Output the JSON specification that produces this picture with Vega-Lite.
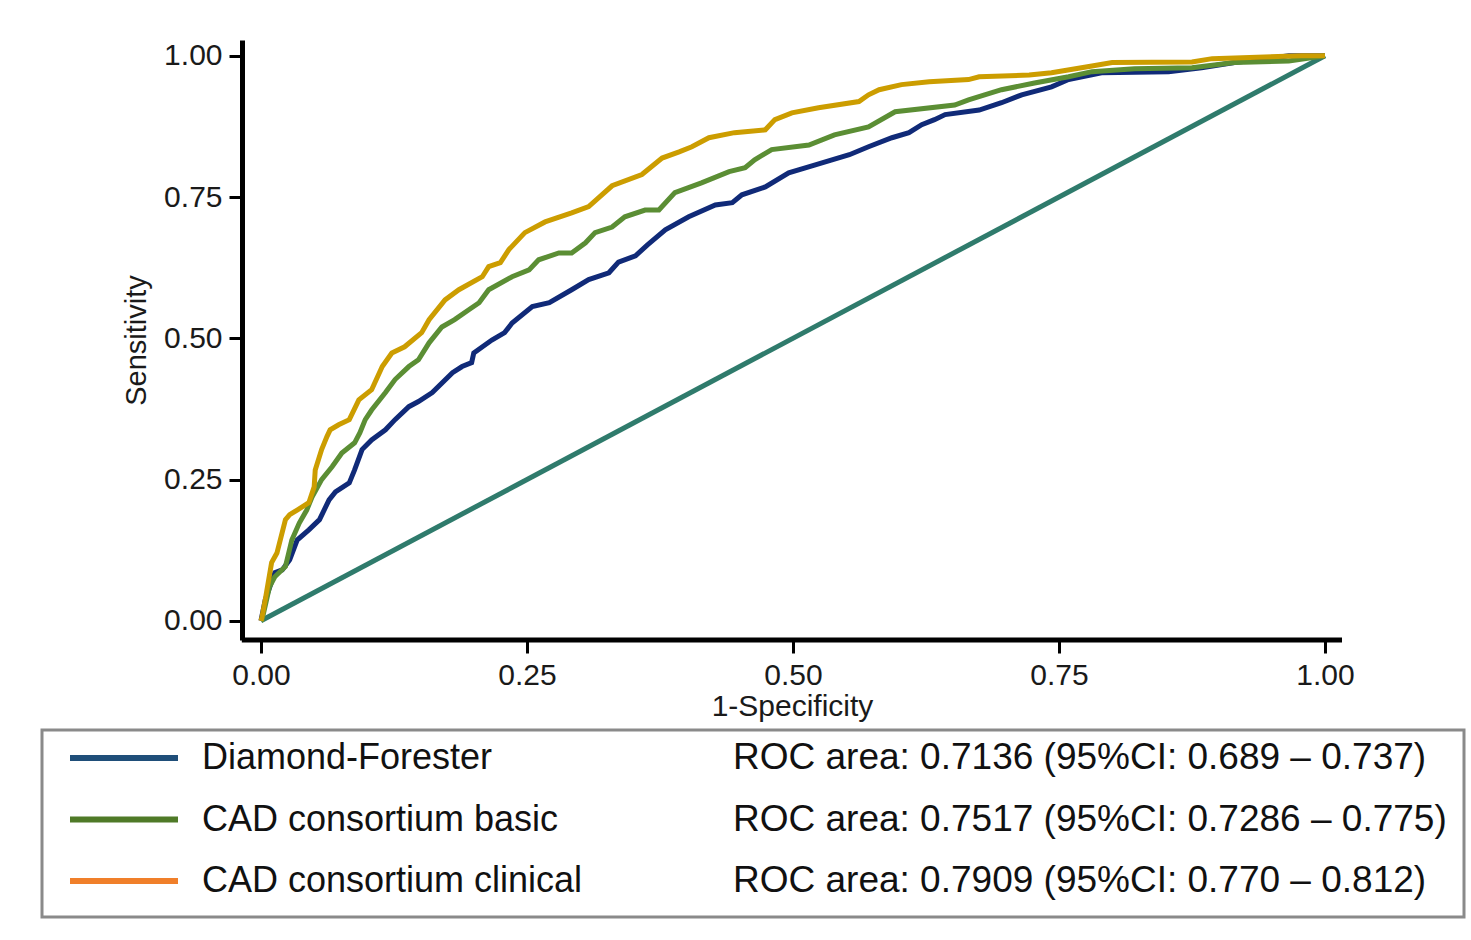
{
  "$schema": "https://vega.github.io/schema/vega-lite/v6.json",
  "padding": {"left": 40, "top": 40, "right": 0, "bottom": 0},
  "background": "white",
  "bounds": "flush",
  "spacing": 90,
  "resolve": {"scale": {"color": "independent", "x": "independent", "y": "independent"}},
  "config": {"font": "Liberation Sans", "view": {"stroke": null}},
  "datasets": {
    "ref": [{"fpr": 0, "tpr": 0}, {"fpr": 1, "tpr": 1}],
    "legend": [
      {"name": "Diamond-Forester", "roc": "ROC area: 0.7136 (95%CI: 0.689 – 0.737)"},
      {"name": "CAD consortium basic", "roc": "ROC area: 0.7517 (95%CI: 0.7286 – 0.775)"},
      {"name": "CAD consortium clinical", "roc": "ROC area: 0.7909 (95%CI: 0.770 – 0.812)"}
    ],
    "roc": [
      {"model": "Diamond-Forester", "fpr": 0, "tpr": 0},
      {"model": "Diamond-Forester", "fpr": 0.004, "tpr": 0.037},
      {"model": "Diamond-Forester", "fpr": 0.013, "tpr": 0.085},
      {"model": "Diamond-Forester", "fpr": 0.020, "tpr": 0.090},
      {"model": "Diamond-Forester", "fpr": 0.027, "tpr": 0.108},
      {"model": "Diamond-Forester", "fpr": 0.034, "tpr": 0.143},
      {"model": "Diamond-Forester", "fpr": 0.045, "tpr": 0.161},
      {"model": "Diamond-Forester", "fpr": 0.055, "tpr": 0.179},
      {"model": "Diamond-Forester", "fpr": 0.064, "tpr": 0.214},
      {"model": "Diamond-Forester", "fpr": 0.070, "tpr": 0.228},
      {"model": "Diamond-Forester", "fpr": 0.083, "tpr": 0.244},
      {"model": "Diamond-Forester", "fpr": 0.088, "tpr": 0.267},
      {"model": "Diamond-Forester", "fpr": 0.095, "tpr": 0.303},
      {"model": "Diamond-Forester", "fpr": 0.104, "tpr": 0.320},
      {"model": "Diamond-Forester", "fpr": 0.117, "tpr": 0.338},
      {"model": "Diamond-Forester", "fpr": 0.126, "tpr": 0.356},
      {"model": "Diamond-Forester", "fpr": 0.139, "tpr": 0.379},
      {"model": "Diamond-Forester", "fpr": 0.148, "tpr": 0.388},
      {"model": "Diamond-Forester", "fpr": 0.161, "tpr": 0.404},
      {"model": "Diamond-Forester", "fpr": 0.180, "tpr": 0.439},
      {"model": "Diamond-Forester", "fpr": 0.189, "tpr": 0.450},
      {"model": "Diamond-Forester", "fpr": 0.198, "tpr": 0.457},
      {"model": "Diamond-Forester", "fpr": 0.200, "tpr": 0.474},
      {"model": "Diamond-Forester", "fpr": 0.217, "tpr": 0.497},
      {"model": "Diamond-Forester", "fpr": 0.229, "tpr": 0.510},
      {"model": "Diamond-Forester", "fpr": 0.236, "tpr": 0.527},
      {"model": "Diamond-Forester", "fpr": 0.255, "tpr": 0.556},
      {"model": "Diamond-Forester", "fpr": 0.271, "tpr": 0.563},
      {"model": "Diamond-Forester", "fpr": 0.292, "tpr": 0.586},
      {"model": "Diamond-Forester", "fpr": 0.308, "tpr": 0.604},
      {"model": "Diamond-Forester", "fpr": 0.327, "tpr": 0.616},
      {"model": "Diamond-Forester", "fpr": 0.336, "tpr": 0.635},
      {"model": "Diamond-Forester", "fpr": 0.352, "tpr": 0.646},
      {"model": "Diamond-Forester", "fpr": 0.363, "tpr": 0.665},
      {"model": "Diamond-Forester", "fpr": 0.380, "tpr": 0.692},
      {"model": "Diamond-Forester", "fpr": 0.402, "tpr": 0.715},
      {"model": "Diamond-Forester", "fpr": 0.427, "tpr": 0.736},
      {"model": "Diamond-Forester", "fpr": 0.443, "tpr": 0.740},
      {"model": "Diamond-Forester", "fpr": 0.452, "tpr": 0.754},
      {"model": "Diamond-Forester", "fpr": 0.474, "tpr": 0.768},
      {"model": "Diamond-Forester", "fpr": 0.496, "tpr": 0.793},
      {"model": "Diamond-Forester", "fpr": 0.521, "tpr": 0.807},
      {"model": "Diamond-Forester", "fpr": 0.553, "tpr": 0.825},
      {"model": "Diamond-Forester", "fpr": 0.571, "tpr": 0.839},
      {"model": "Diamond-Forester", "fpr": 0.593, "tpr": 0.855},
      {"model": "Diamond-Forester", "fpr": 0.609, "tpr": 0.864},
      {"model": "Diamond-Forester", "fpr": 0.621, "tpr": 0.878},
      {"model": "Diamond-Forester", "fpr": 0.633, "tpr": 0.887},
      {"model": "Diamond-Forester", "fpr": 0.643, "tpr": 0.896},
      {"model": "Diamond-Forester", "fpr": 0.675, "tpr": 0.904},
      {"model": "Diamond-Forester", "fpr": 0.696, "tpr": 0.917},
      {"model": "Diamond-Forester", "fpr": 0.715, "tpr": 0.931},
      {"model": "Diamond-Forester", "fpr": 0.743, "tpr": 0.945},
      {"model": "Diamond-Forester", "fpr": 0.759, "tpr": 0.958},
      {"model": "Diamond-Forester", "fpr": 0.790, "tpr": 0.970},
      {"model": "Diamond-Forester", "fpr": 0.853, "tpr": 0.972},
      {"model": "Diamond-Forester", "fpr": 0.884, "tpr": 0.979},
      {"model": "Diamond-Forester", "fpr": 0.915, "tpr": 0.988},
      {"model": "Diamond-Forester", "fpr": 0.966, "tpr": 1.0},
      {"model": "Diamond-Forester", "fpr": 1, "tpr": 1},
      {"model": "CAD consortium basic", "fpr": 0, "tpr": 0},
      {"model": "CAD consortium basic", "fpr": 0.001, "tpr": 0.002},
      {"model": "CAD consortium basic", "fpr": 0.008, "tpr": 0.060},
      {"model": "CAD consortium basic", "fpr": 0.013, "tpr": 0.078},
      {"model": "CAD consortium basic", "fpr": 0.023, "tpr": 0.096},
      {"model": "CAD consortium basic", "fpr": 0.029, "tpr": 0.143},
      {"model": "CAD consortium basic", "fpr": 0.036, "tpr": 0.173},
      {"model": "CAD consortium basic", "fpr": 0.043, "tpr": 0.196},
      {"model": "CAD consortium basic", "fpr": 0.048, "tpr": 0.219},
      {"model": "CAD consortium basic", "fpr": 0.057, "tpr": 0.250},
      {"model": "CAD consortium basic", "fpr": 0.067, "tpr": 0.273},
      {"model": "CAD consortium basic", "fpr": 0.076, "tpr": 0.297},
      {"model": "CAD consortium basic", "fpr": 0.088, "tpr": 0.315},
      {"model": "CAD consortium basic", "fpr": 0.093, "tpr": 0.333},
      {"model": "CAD consortium basic", "fpr": 0.098, "tpr": 0.356},
      {"model": "CAD consortium basic", "fpr": 0.104, "tpr": 0.373},
      {"model": "CAD consortium basic", "fpr": 0.117, "tpr": 0.404},
      {"model": "CAD consortium basic", "fpr": 0.126, "tpr": 0.427},
      {"model": "CAD consortium basic", "fpr": 0.139, "tpr": 0.450},
      {"model": "CAD consortium basic", "fpr": 0.148, "tpr": 0.462},
      {"model": "CAD consortium basic", "fpr": 0.158, "tpr": 0.492},
      {"model": "CAD consortium basic", "fpr": 0.170, "tpr": 0.520},
      {"model": "CAD consortium basic", "fpr": 0.182, "tpr": 0.533},
      {"model": "CAD consortium basic", "fpr": 0.195, "tpr": 0.550},
      {"model": "CAD consortium basic", "fpr": 0.205, "tpr": 0.563},
      {"model": "CAD consortium basic", "fpr": 0.214, "tpr": 0.586},
      {"model": "CAD consortium basic", "fpr": 0.236, "tpr": 0.609},
      {"model": "CAD consortium basic", "fpr": 0.252, "tpr": 0.621},
      {"model": "CAD consortium basic", "fpr": 0.261, "tpr": 0.639},
      {"model": "CAD consortium basic", "fpr": 0.280, "tpr": 0.651},
      {"model": "CAD consortium basic", "fpr": 0.292, "tpr": 0.651},
      {"model": "CAD consortium basic", "fpr": 0.305, "tpr": 0.669},
      {"model": "CAD consortium basic", "fpr": 0.314, "tpr": 0.687},
      {"model": "CAD consortium basic", "fpr": 0.330, "tpr": 0.697},
      {"model": "CAD consortium basic", "fpr": 0.342, "tpr": 0.715},
      {"model": "CAD consortium basic", "fpr": 0.361, "tpr": 0.727},
      {"model": "CAD consortium basic", "fpr": 0.374, "tpr": 0.727},
      {"model": "CAD consortium basic", "fpr": 0.389, "tpr": 0.758},
      {"model": "CAD consortium basic", "fpr": 0.414, "tpr": 0.775},
      {"model": "CAD consortium basic", "fpr": 0.440, "tpr": 0.795},
      {"model": "CAD consortium basic", "fpr": 0.455, "tpr": 0.802},
      {"model": "CAD consortium basic", "fpr": 0.464, "tpr": 0.816},
      {"model": "CAD consortium basic", "fpr": 0.480, "tpr": 0.834},
      {"model": "CAD consortium basic", "fpr": 0.515, "tpr": 0.842},
      {"model": "CAD consortium basic", "fpr": 0.539, "tpr": 0.860},
      {"model": "CAD consortium basic", "fpr": 0.571, "tpr": 0.874},
      {"model": "CAD consortium basic", "fpr": 0.596, "tpr": 0.901},
      {"model": "CAD consortium basic", "fpr": 0.652, "tpr": 0.913},
      {"model": "CAD consortium basic", "fpr": 0.665, "tpr": 0.922},
      {"model": "CAD consortium basic", "fpr": 0.696, "tpr": 0.940},
      {"model": "CAD consortium basic", "fpr": 0.727, "tpr": 0.952},
      {"model": "CAD consortium basic", "fpr": 0.759, "tpr": 0.963},
      {"model": "CAD consortium basic", "fpr": 0.781, "tpr": 0.972},
      {"model": "CAD consortium basic", "fpr": 0.821, "tpr": 0.977},
      {"model": "CAD consortium basic", "fpr": 0.875, "tpr": 0.979},
      {"model": "CAD consortium basic", "fpr": 0.915, "tpr": 0.988},
      {"model": "CAD consortium basic", "fpr": 0.966, "tpr": 0.991},
      {"model": "CAD consortium basic", "fpr": 1, "tpr": 1},
      {"model": "CAD consortium clinical", "fpr": 0, "tpr": 0},
      {"model": "CAD consortium clinical", "fpr": 0.001, "tpr": 0.007},
      {"model": "CAD consortium clinical", "fpr": 0.004, "tpr": 0.037},
      {"model": "CAD consortium clinical", "fpr": 0.010, "tpr": 0.103},
      {"model": "CAD consortium clinical", "fpr": 0.015, "tpr": 0.120},
      {"model": "CAD consortium clinical", "fpr": 0.023, "tpr": 0.179},
      {"model": "CAD consortium clinical", "fpr": 0.027, "tpr": 0.188},
      {"model": "CAD consortium clinical", "fpr": 0.034, "tpr": 0.196},
      {"model": "CAD consortium clinical", "fpr": 0.045, "tpr": 0.209},
      {"model": "CAD consortium clinical", "fpr": 0.050, "tpr": 0.237},
      {"model": "CAD consortium clinical", "fpr": 0.051, "tpr": 0.267},
      {"model": "CAD consortium clinical", "fpr": 0.057, "tpr": 0.303},
      {"model": "CAD consortium clinical", "fpr": 0.062, "tpr": 0.326},
      {"model": "CAD consortium clinical", "fpr": 0.065, "tpr": 0.338},
      {"model": "CAD consortium clinical", "fpr": 0.073, "tpr": 0.347},
      {"model": "CAD consortium clinical", "fpr": 0.083, "tpr": 0.356},
      {"model": "CAD consortium clinical", "fpr": 0.092, "tpr": 0.391},
      {"model": "CAD consortium clinical", "fpr": 0.104, "tpr": 0.409},
      {"model": "CAD consortium clinical", "fpr": 0.114, "tpr": 0.450},
      {"model": "CAD consortium clinical", "fpr": 0.123, "tpr": 0.474},
      {"model": "CAD consortium clinical", "fpr": 0.135, "tpr": 0.485},
      {"model": "CAD consortium clinical", "fpr": 0.151, "tpr": 0.510},
      {"model": "CAD consortium clinical", "fpr": 0.158, "tpr": 0.533},
      {"model": "CAD consortium clinical", "fpr": 0.173, "tpr": 0.568},
      {"model": "CAD consortium clinical", "fpr": 0.186, "tpr": 0.586},
      {"model": "CAD consortium clinical", "fpr": 0.208, "tpr": 0.609},
      {"model": "CAD consortium clinical", "fpr": 0.214, "tpr": 0.627},
      {"model": "CAD consortium clinical", "fpr": 0.225, "tpr": 0.634},
      {"model": "CAD consortium clinical", "fpr": 0.233, "tpr": 0.657},
      {"model": "CAD consortium clinical", "fpr": 0.248, "tpr": 0.687},
      {"model": "CAD consortium clinical", "fpr": 0.267, "tpr": 0.706},
      {"model": "CAD consortium clinical", "fpr": 0.292, "tpr": 0.722},
      {"model": "CAD consortium clinical", "fpr": 0.308, "tpr": 0.733},
      {"model": "CAD consortium clinical", "fpr": 0.318, "tpr": 0.750},
      {"model": "CAD consortium clinical", "fpr": 0.330, "tpr": 0.770},
      {"model": "CAD consortium clinical", "fpr": 0.358, "tpr": 0.790},
      {"model": "CAD consortium clinical", "fpr": 0.377, "tpr": 0.819},
      {"model": "CAD consortium clinical", "fpr": 0.393, "tpr": 0.830},
      {"model": "CAD consortium clinical", "fpr": 0.405, "tpr": 0.839},
      {"model": "CAD consortium clinical", "fpr": 0.421, "tpr": 0.855},
      {"model": "CAD consortium clinical", "fpr": 0.445, "tpr": 0.864},
      {"model": "CAD consortium clinical", "fpr": 0.474, "tpr": 0.869},
      {"model": "CAD consortium clinical", "fpr": 0.483, "tpr": 0.887},
      {"model": "CAD consortium clinical", "fpr": 0.499, "tpr": 0.899},
      {"model": "CAD consortium clinical", "fpr": 0.524, "tpr": 0.908},
      {"model": "CAD consortium clinical", "fpr": 0.562, "tpr": 0.919},
      {"model": "CAD consortium clinical", "fpr": 0.571, "tpr": 0.931},
      {"model": "CAD consortium clinical", "fpr": 0.581, "tpr": 0.940},
      {"model": "CAD consortium clinical", "fpr": 0.602, "tpr": 0.949},
      {"model": "CAD consortium clinical", "fpr": 0.628, "tpr": 0.954},
      {"model": "CAD consortium clinical", "fpr": 0.665, "tpr": 0.958},
      {"model": "CAD consortium clinical", "fpr": 0.675, "tpr": 0.963},
      {"model": "CAD consortium clinical", "fpr": 0.722, "tpr": 0.966},
      {"model": "CAD consortium clinical", "fpr": 0.743, "tpr": 0.970},
      {"model": "CAD consortium clinical", "fpr": 0.781, "tpr": 0.982},
      {"model": "CAD consortium clinical", "fpr": 0.800, "tpr": 0.988},
      {"model": "CAD consortium clinical", "fpr": 0.875, "tpr": 0.989},
      {"model": "CAD consortium clinical", "fpr": 0.894, "tpr": 0.995},
      {"model": "CAD consortium clinical", "fpr": 0.978, "tpr": 1.0},
      {"model": "CAD consortium clinical", "fpr": 1, "tpr": 1}
    ]
  },
  "vconcat": [
    {
      "width": 1300,
      "height": 600,
      "layer": [
        {
          "data": {"name": "ref"},
          "mark": {"type": "line", "color": "#2f7b6c", "strokeWidth": 5},
          "encoding": {
            "x": {
              "field": "fpr", "type": "quantitative",
              "scale": {"domain": [-0.2058, 1.016], "nice": false, "zero": false},
              "axis": {
                "values": [0, 0.25, 0.5, 0.75, 1], "format": ".2f", "domain": false, "grid": false,
                "tickSize": 13, "tickWidth": 3, "tickColor": "black",
                "labelFontSize": 30, "labelColor": "#1a1a1a", "labelPadding": 7, "labelFlush": false, "labelOverlap": false,
                "title": "1-Specificity", "titleFontSize": 30, "titleFontWeight": "normal", "titleColor": "#1a1a1a", "titlePadding": 1,
                "titleX": 750, "titleAlign": "center"
              }
            },
            "y": {
              "field": "tpr", "type": "quantitative",
              "scale": {"domain": [-0.034, 1.028], "nice": false, "zero": false},
              "axis": {
                "orient": "left", "offset": -200,
                "values": [0, 0.25, 0.5, 0.75, 1], "format": ".2f", "grid": false,
                "domainColor": "black", "domainWidth": 5,
                "tickSize": 13, "tickWidth": 3, "tickColor": "black",
                "labelFontSize": 30, "labelColor": "#1a1a1a", "labelPadding": 7,
                "title": "Sensitivity", "titleFontSize": 29, "titleFontWeight": "normal", "titleColor": "#1a1a1a", "titlePadding": 12
              }
            }
          }
        },
        {
          "data": {"name": "roc"},
          "mark": {"type": "line", "strokeWidth": 5},
          "encoding": {
            "x": {"field": "fpr", "type": "quantitative"},
            "y": {"field": "tpr", "type": "quantitative"},
            "color": {
              "field": "model", "type": "nominal",
              "scale": {"domain": ["Diamond-Forester", "CAD consortium basic", "CAD consortium clinical"], "range": ["#102a78", "#5b8e34", "#cc9d00"]},
              "legend": null
            }
          }
        },
        {
          "data": {"values": [{}]},
          "mark": {"type": "rule", "color": "black", "strokeWidth": 5},
          "encoding": {
            "x": {"datum": -0.018, "type": "quantitative"},
            "x2": {"datum": 1.016},
            "y": {"datum": -0.034, "type": "quantitative"}
          }
        }
      ]
    },
    {
      "width": 1422,
      "height": 187,
      "view": {"stroke": "#8a8a8a", "strokeWidth": 3},
      "data": {"name": "legend"},
      "encoding": {
        "y": {
          "field": "name", "type": "nominal",
          "scale": {"type": "point", "domain": ["Diamond-Forester", "CAD consortium basic", "CAD consortium clinical"], "range": [28, 151], "padding": 0},
          "axis": null
        }
      },
      "layer": [
        {
          "mark": {"type": "rule", "strokeWidth": 6},
          "encoding": {
            "x": {"datum": 28, "type": "quantitative", "scale": {"domain": [0, 1422], "nice": false, "zero": false}, "axis": null},
            "x2": {"datum": 136},
            "color": {
              "field": "name", "type": "nominal",
              "scale": {"domain": ["Diamond-Forester", "CAD consortium basic", "CAD consortium clinical"], "range": ["#1f4e79", "#4f7a28", "#f07f2a"]},
              "legend": null
            }
          }
        },
        {
          "mark": {"type": "text", "align": "left", "baseline": "middle", "fontSize": 36, "color": "#111111"},
          "encoding": {
            "x": {"datum": 160, "type": "quantitative"},
            "text": {"field": "name"}
          }
        },
        {
          "mark": {"type": "text", "align": "left", "baseline": "middle", "fontSize": 37, "color": "#111111"},
          "encoding": {
            "x": {"datum": 691, "type": "quantitative"},
            "text": {"field": "roc"}
          }
        }
      ]
    }
  ]
}
